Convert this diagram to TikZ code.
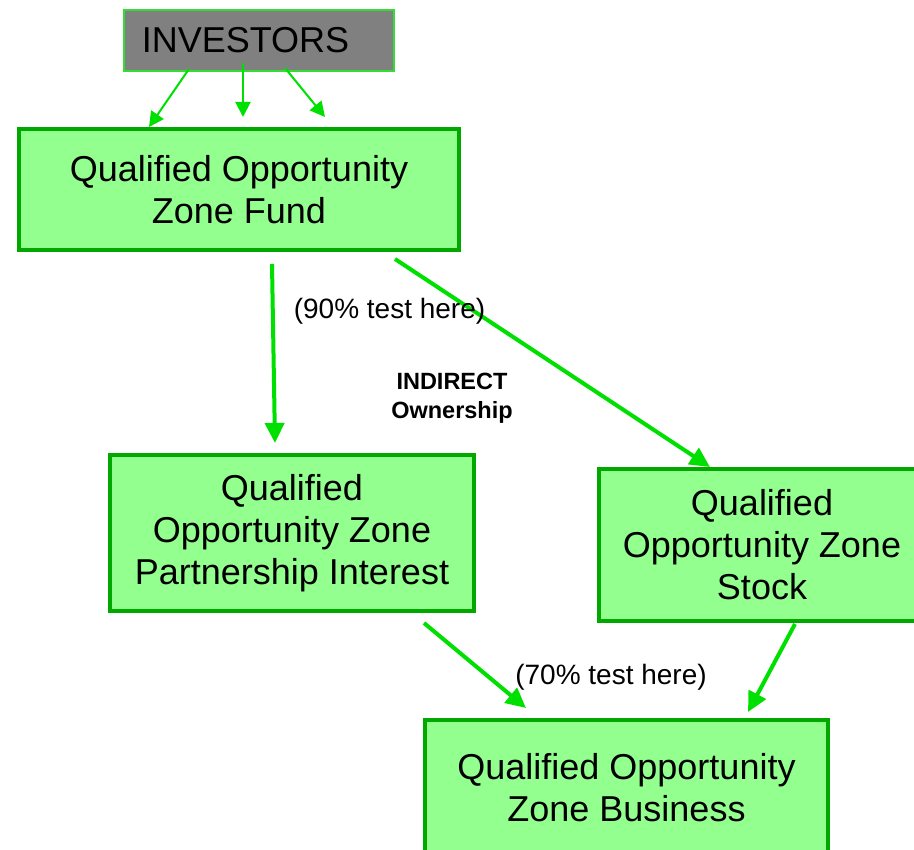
\documentclass[tikz,border=0pt]{standalone}
\usepackage{fontspec}
\setmainfont{Liberation Sans}
\usetikzlibrary{arrows.meta,calc}
\definecolor{boxfill}{HTML}{93FF8F}
\definecolor{boxedge}{HTML}{00A800}
\definecolor{arrowgreen}{HTML}{00E000}
\definecolor{invfill}{HTML}{808080}
\definecolor{invedge}{HTML}{33DD33}
\tikzset{
  zonebox/.style={draw=boxedge, fill=boxfill, line width=4pt, inner sep=0pt,
    align=center, font=\fontsize{36}{42}\selectfont},
  invbox/.style={draw=invedge, fill=invfill, line width=2pt, inner sep=0pt,
    minimum width=270pt, minimum height=61pt, font=\fontsize{36}{42}\selectfont},
  thinarrow/.style={draw=arrowgreen, line width=2pt,
    -{Triangle[length=15pt,width=15pt]}},
  thickarrow/.style={draw=arrowgreen, line width=4pt,
    -{Triangle[length=20pt,width=19pt]}},
  note/.style={inner sep=0pt, align=center, font=\fontsize{28}{32}\selectfont},
  boldnote/.style={inner sep=0pt, align=center, font=\fontsize{23.5}{29}\selectfont\bfseries}
}
\begin{document}
\begin{tikzpicture}[x=1pt,y=-1pt]
  \useasboundingbox (0,0) rectangle (914,850);
  \clip (0,0) rectangle (914,850);

  % boxes
  \node[invbox] (inv) at (259,40.5) {INVESTORS\hspace*{27pt}};
  \node[zonebox, minimum width=440pt, minimum height=121pt] (fund) at (239,189.5)
    {Qualified Opportunity\\Zone Fund};
  \node[zonebox, minimum width=364pt, minimum height=156pt] (part) at (292,533)
    {Qualified\\Opportunity Zone\\Partnership Interest};
  \node[zonebox, minimum width=326pt, minimum height=152pt] (stock) at (762,545)
    {Qualified\\Opportunity Zone\\Stock};
  \node[zonebox, minimum width=403pt, minimum height=136pt] (bus) at (626.5,788)
    {Qualified Opportunity\\Zone Business};

  % investors into the fund
  \draw[thinarrow] ($(inv.south)+(-70,-3)$) -- ($(fund.north)+(-90,0)$);
  \draw[thinarrow] ($(inv.south)+(-16,-9)$) -- ($(fund.north)+(4,-10)$);
  \draw[thinarrow] ($(inv.south)+(26,-4)$) -- ($(fund.north)+(86,-10)$);

  % ownership chain
  \draw[thickarrow] ($(fund.south)+(33,12)$) -- ($(part.north)+(-17,-10)$);
  \draw[thickarrow] ($(fund.south)+(156,7)$) -- ($(stock.north)+(-52,0)$);
  \draw[thickarrow] ($(part.south)+(132,10)$) -- ($(bus.north)+(-100.5,-10)$);
  \draw[thickarrow] ($(stock.south)+(33,1)$) -- ($(bus.north)+(121.5,-6)$);

  % labels
  \node[note] (t90) at (389.5,311) {(90\% test here)};
  \node[boldnote] (ind) at (452,398) {INDIRECT\\Ownership};
  \node[note] (t70) at (611,677) {(70\% test here)};
\end{tikzpicture}
\end{document}
